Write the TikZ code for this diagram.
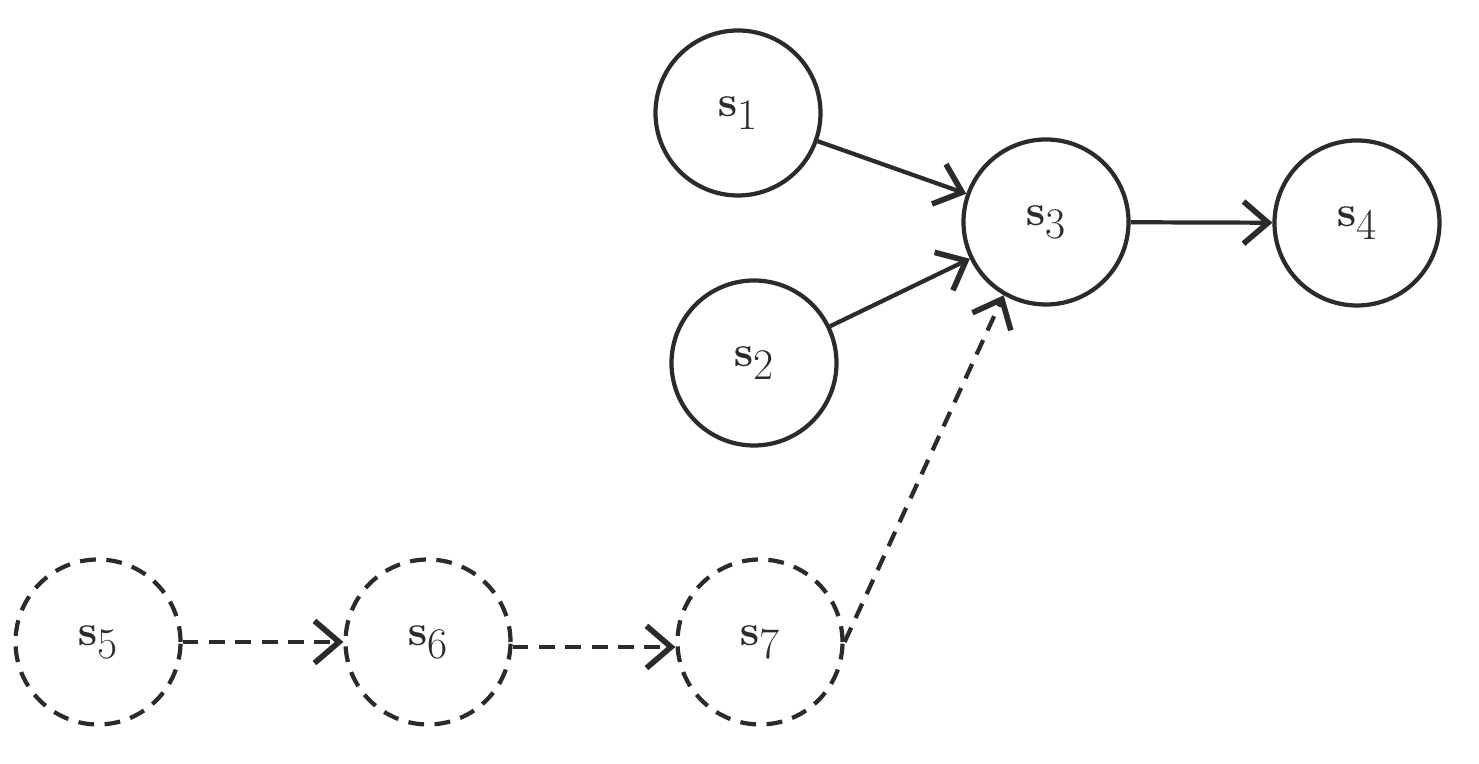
\documentclass[tikz,border=0pt]{standalone}
\usetikzlibrary{arrows.meta}
\definecolor{ink}{HTML}{2B2B2B}
\tikzstyle{state}=[circle,draw=ink,line width=2.4pt,minimum size=3.3cm,inner sep=0pt,text=ink,font=\fontsize{38}{40}\selectfont]
\tikzstyle{ghost}=[state,dashed,dash pattern=on 9pt off 6pt]
\tikzstyle{link}=[draw=ink,line width=2.4pt,-{Straight Barb[length=14pt,width=24pt,line width=3.2pt]}]

\begin{document}
\begin{tikzpicture}
  \useasboundingbox (0,0) rectangle (29.58,15.28);
  \node[state] (s1) at (14.76,13.02) {$\mathbf{s}_1$};
  \node[state] (s2) at (15.08,8.02) {$\mathbf{s}_2$};
  \node[state] (s3) at (20.92,10.84) {$\mathbf{s}_3$};
  \node[state] (s4) at (27.14,10.82) {$\mathbf{s}_4$};
  \node[ghost] (s5) at (1.96,2.44) {$\mathbf{s}_5$};
  \node[ghost] (s6) at (8.56,2.44) {$\mathbf{s}_6$};
  \node[ghost] (s7) at (15.2,2.44) {$\mathbf{s}_7$};
  \draw[link] (s1) -- (s3);
  \draw[link] (s2) -- (s3);
  \draw[link] (s3) -- (s4);
  \draw[link,dash pattern=on 9pt off 6pt] (s5) -- (s6);
  \draw[link,dash pattern=on 9pt off 6pt] (s6.east) ++(0,-0.1) -- ([yshift=-0.1cm]s7.west);
  \draw[link,dash pattern=on 9pt off 6pt] (s7.east) -- (s3.240);
\end{tikzpicture}
\end{document}
